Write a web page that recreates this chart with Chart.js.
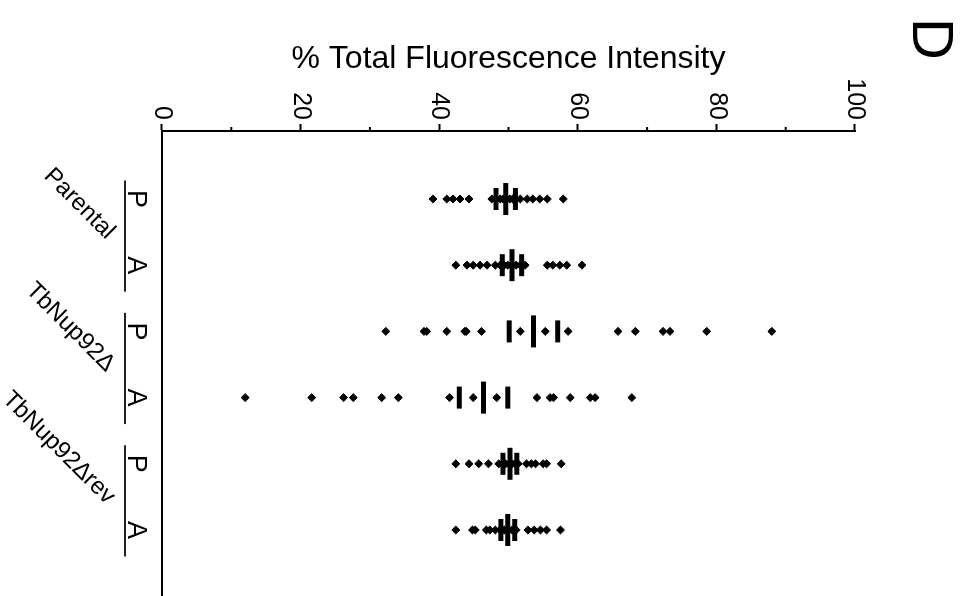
<!DOCTYPE html>
<html>
<head>
<meta charset="utf-8">
<script src="https://cdn.jsdelivr.net/npm/chart.js@4.4.1/dist/chart.umd.min.js"></script>
<style>
    html, body { margin: 0; padding: 0; background: #fff; overflow: hidden; }
    /* the figure is drawn upright and then turned a quarter clockwise */
    #page {
        position: absolute; left: 0; top: 0;
        width: 596px; height: 964px;
        transform-origin: 0 0;
        transform: translate(964px, 0) rotate(90deg);
    }
    #panel {
        position: absolute; left: 18px; top: 2px;
        font: 58px "Liberation Sans", Arial, sans-serif;
        line-height: 58px; color: #000;
    }
    canvas { display: block; }
</style>
</head>
<body>
<div id="page">
    <canvas id="chart" width="596" height="964"></canvas>
    <div id="panel">D</div>
</div>
<script>
const rowLabels = ['P', 'A', 'P', 'A', 'P', 'A'];
const groupLabels = ['Parental', 'TbNup92Δ', 'TbNup92Δrev'];
const valueTicks = [0, 20, 40, 60, 80, 100];

// % total fluorescence per cell, one list per row
const parentalP = [39.1, 41.1, 42.0, 43.0, 44.3, 47.6, 48.3, 48.8, 49.2, 49.8, 50.2, 50.6, 51.7, 52.7, 53.5, 54.5, 55.6, 57.9];
const parentalA = [42.4, 44.0, 44.9, 45.9, 46.9, 48.1, 48.8, 49.4, 49.9, 50.5, 51.1, 51.7, 52.4, 55.6, 56.4, 57.4, 58.4, 60.6];
const nupP = [32.3, 37.8, 38.2, 41.1, 43.7, 43.9, 46.1, 51.7, 55.3, 58.6, 65.8, 68.3, 72.3, 73.3, 78.6, 88.0];
const nupA = [12.0, 21.6, 26.2, 27.6, 31.7, 34.1, 41.5, 44.9, 48.3, 54.1, 56.0, 56.5, 58.9, 61.8, 62.5, 67.8];
const revP = [42.4, 44.3, 45.7, 47.1, 48.6, 49.2, 49.6, 50.1, 50.5, 50.9, 51.4, 52.6, 53.3, 53.9, 55.0, 55.5, 57.6];
const revA = [42.4, 44.8, 45.2, 46.8, 47.3, 48.1, 48.8, 49.4, 49.9, 50.5, 51.1, 52.8, 53.7, 54.6, 55.5, 57.5];

const means = [49.6, 50.5, 53.6, 46.4, 50.2, 49.9];
const errors = [1.4, 1.4, 3.5, 3.5, 1.0, 1.0];

const rows = [parentalP, parentalA, nupP, nupA, revP, revA];
const fontFamily = '"Liberation Sans", Arial, sans-serif';
const catMin = -1.027;
const catMax = 5.997;
const groupShift = 0.55;

const pointData = rows.flatMap((vals, i) => vals.map(v => ({ x: i, y: v })));
const meanData = means.map((m, i) => ({ x: i, y: m }));
const errData = means.flatMap((m, i) => [{ x: i, y: m - errors[i] }, { x: i, y: m + errors[i] }]);

// group brackets under P/A and the short minor ticks on the value axis
const extras = {
    id: 'extras',
    afterDraw(chart) {
        const ctx = chart.ctx;
        const xs = chart.scales.x;
        const ys = chart.scales.y;
        const yLine = chart.scales.xg.top;
        ctx.save();
        ctx.strokeStyle = '#222';
        ctx.lineWidth = 2;
        groupLabels.forEach((g, i) => {
            ctx.beginPath();
            ctx.moveTo(xs.getPixelForValue(2 * i - 0.28), yLine);
            ctx.lineTo(xs.getPixelForValue(2 * i + 1.4), yLine);
            ctx.stroke();
        });
        ctx.strokeStyle = '#000';
        for (let v = 10; v < 100; v += 20) {
            const py = ys.getPixelForValue(v);
            ctx.beginPath();
            ctx.moveTo(ys.right, py);
            ctx.lineTo(ys.right - 4, py);
            ctx.stroke();
        }
        ctx.restore();
    }
};

new Chart(document.getElementById('chart'), {
    type: 'scatter',
    data: {
        datasets: [
            {
                data: pointData,
                pointStyle: 'rectRot',
                pointRadius: 4,
                backgroundColor: '#000',
                borderColor: '#000',
                borderWidth: 1
            },
            {
                data: meanData,
                pointStyle: 'line',
                pointRadius: 16,
                borderColor: '#000',
                borderWidth: 5
            },
            {
                data: errData,
                pointStyle: 'line',
                pointRadius: 11,
                borderColor: '#000',
                borderWidth: 5
            }
        ]
    },
    options: {
        responsive: false,
        animation: false,
        events: [],
        layout: { autoPadding: false, padding: { top: 109, right: 0, bottom: 0, left: 0 } },
        plugins: { legend: { display: false }, tooltip: { enabled: false } },
        scales: {
            x: {
                type: 'linear',
                position: 'bottom',
                min: catMin,
                max: catMax,
                afterBuildTicks: axis => { axis.ticks = rowLabels.map((_, i) => ({ value: i })); },
                afterFit: axis => { axis.height = 37; },
                ticks: {
                    callback: v => rowLabels[v],
                    autoSkip: false,
                    minRotation: 0,
                    maxRotation: 0,
                    padding: 10,
                    color: '#000',
                    font: { family: fontFamily, size: 27 }
                },
                grid: { display: false, drawTicks: false },
                border: { color: '#000', width: 2 }
            },
            xg: {
                type: 'linear',
                position: 'bottom',
                min: catMin,
                max: catMax,
                afterBuildTicks: axis => { axis.ticks = groupLabels.map((_, i) => ({ value: 2 * i + groupShift })); },
                afterFit: axis => { axis.height = 125; },
                ticks: {
                    callback: v => groupLabels[Math.round((v - groupShift) / 2)],
                    autoSkip: false,
                    minRotation: 45,
                    maxRotation: 45,
                    padding: 4,
                    color: '#000',
                    font: { family: fontFamily, size: 24 }
                },
                grid: { display: false, drawTicks: false },
                border: { display: false }
            },
            y: {
                type: 'linear',
                position: 'left',
                min: 0,
                max: 100,
                afterBuildTicks: axis => { axis.ticks = valueTicks.map(v => ({ value: v })); },
                afterFit: axis => { axis.width = 131; },
                ticks: {
                    padding: 4,
                    color: '#000',
                    font: { family: fontFamily, size: 25 }
                },
                grid: { drawOnChartArea: false, tickLength: 7, tickWidth: 2, tickColor: '#000' },
                border: { color: '#000', width: 2 },
                title: {
                    display: true,
                    text: '% Total Fluorescence Intensity',
                    color: '#000',
                    padding: { top: 40, bottom: 0 },
                    font: { family: fontFamily, size: 32 }
                }
            }
        }
    },
    plugins: [extras]
});
</script>
</body>
</html>
